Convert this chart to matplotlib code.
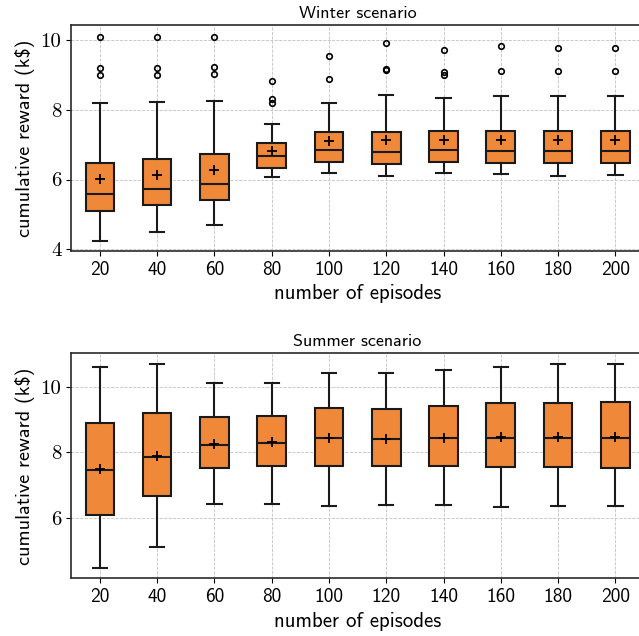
import matplotlib
matplotlib.use("Agg")
import matplotlib.pyplot as plt

episodes = [20, 40, 60, 80, 100, 120, 140, 160, 180, 200]

# winter scenario (k$)
w_lo = [4.24, 4.49, 4.71, 6.06, 6.19, 6.11, 6.19, 6.16, 6.11, 6.13]
w_q1 = [5.10, 5.27, 5.42, 6.33, 6.49, 6.44, 6.49, 6.48, 6.46, 6.46]
w_med = [5.59, 5.72, 5.87, 6.66, 6.85, 6.80, 6.84, 6.82, 6.81, 6.81]
w_q3 = [6.48, 6.59, 6.72, 7.05, 7.35, 7.37, 7.38, 7.40, 7.39, 7.39]
w_hi = [8.18, 8.21, 8.25, 7.58, 8.18, 8.42, 8.34, 8.40, 8.40, 8.40]
w_mean = [6.01, 6.14, 6.27, 6.81, 7.11, 7.12, 7.13, 7.13, 7.12, 7.12]
w_fliers = [[10.1, 9.2, 8.99], [10.1, 9.2, 8.99], [10.1, 9.24, 9.02],
            [8.83, 8.32, 8.2], [9.53, 8.89], [9.9, 9.17, 9.13],
            [9.7, 9.08, 8.99], [9.82, 9.12], [9.78, 9.11], [9.78, 9.10]]

# summer scenario (k$)
s_lo = [4.45, 5.12, 6.43, 6.43, 6.37, 6.39, 6.39, 6.34, 6.36, 6.36]
s_q1 = [6.08, 6.65, 7.51, 7.57, 7.58, 7.58, 7.58, 7.55, 7.55, 7.53]
s_med = [7.45, 7.86, 8.21, 8.28, 8.42, 8.39, 8.44, 8.43, 8.43, 8.43]
s_q3 = [8.88, 9.21, 9.09, 9.10, 9.36, 9.33, 9.42, 9.49, 9.50, 9.53]
s_hi = [10.59, 10.70, 10.10, 10.10, 10.41, 10.41, 10.50, 10.60, 10.70, 10.70]
s_mean = [7.48, 7.89, 8.25, 8.30, 8.42, 8.41, 8.44, 8.45, 8.47, 8.47]

ORANGE = "#F0883A"
SANS = ["cmss10", "DejaVu Sans"]


def stats(lo, q1, med, q3, hi, mean, fliers=None):
    out = []
    for i in range(len(lo)):
        out.append(dict(whislo=lo[i], q1=q1[i], med=med[i], q3=q3[i], whishi=hi[i],
                        mean=mean[i], fliers=fliers[i] if fliers else []))
    return out


def draw(ax, st, title, ylim, yticks):
    ax.bxp(st, widths=0.5, showmeans=True, patch_artist=True,
           boxprops=dict(facecolor=ORANGE, edgecolor="#1a1a1a", linewidth=1.5),
           whiskerprops=dict(color="#1a1a1a", linewidth=1.5),
           capprops=dict(color="#1a1a1a", linewidth=1.5),
           medianprops=dict(color="#1a1a1a", linewidth=1.5),
           meanprops=dict(marker="+", markeredgecolor="black", markersize=7, markeredgewidth=1.3),
           flierprops=dict(marker="o", markerfacecolor="none", markeredgecolor="black",
                           markersize=4, markeredgewidth=1.2))
    ax.set_xticks(range(1, len(episodes) + 1))
    ax.set_xticklabels([str(e) for e in episodes], fontfamily=SANS, fontsize=14)
    ax.set_xlim(0.5, 10.5)
    ax.set_ylim(*ylim)
    ax.set_yticks(yticks)
    ax.set_yticklabels([str(t) for t in yticks], fontfamily="cmr10", fontsize=15)
    ax.grid(True, linestyle="--", color="#c0c0c0", linewidth=0.6)
    ax.set_axisbelow(True)
    ax.set_title(title, fontfamily=SANS, fontsize=13, pad=5)
    ax.set_xlabel("number of episodes", fontfamily=SANS, fontsize=15, labelpad=4)
    ax.set_ylabel("cumulative reward (k$)", fontfamily=SANS, fontsize=14.6, labelpad=4)
    for s in ax.spines.values():
        s.set_color("#2a2a2a")
        s.set_linewidth(1.2)


fig = plt.figure(figsize=(6.39, 6.36), dpi=100)
ax1 = fig.add_axes([0.1115, 0.6053, 0.8963, 0.3554])
ax2 = fig.add_axes([0.1115, 0.0907, 0.8963, 0.3538])
draw(ax1, stats(w_lo, w_q1, w_med, w_q3, w_hi, w_mean, w_fliers), "Winter scenario",
     (3.95, 10.43), [4, 6, 8, 10])
draw(ax2, stats(s_lo, s_q1, s_med, s_q3, s_hi, s_mean), "Summer scenario",
     (4.15, 11.02), [6, 8, 10])
fig.savefig("out.png", dpi=100)
